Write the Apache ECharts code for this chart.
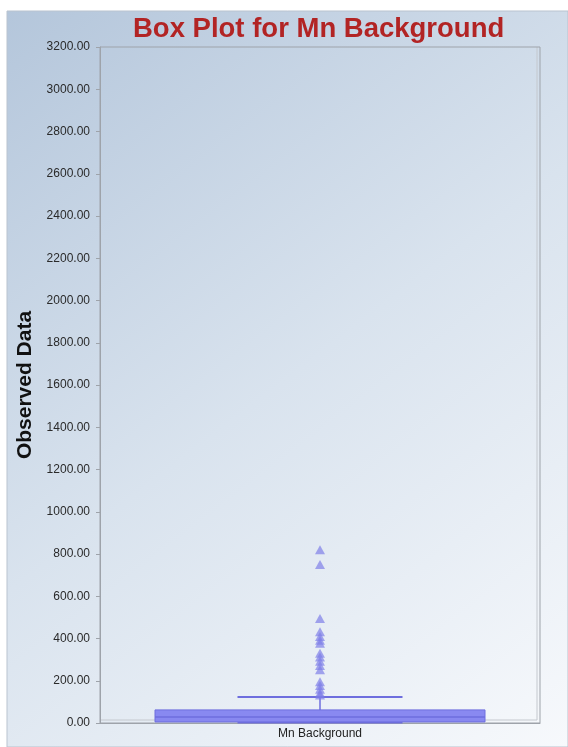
<!DOCTYPE html>
<html>
<head>
<meta charset="utf-8">
<script src="https://cdn.jsdelivr.net/npm/echarts@6/dist/echarts.min.js"></script>
<style>
  html, body { margin: 0; padding: 0; background: #ffffff; }
  #chart { width: 568px; height: 747px; }
</style>
</head>
<body>
<div id="chart"></div>
<script>
// Mn background concentrations: box summary and points beyond the upper whisker
const categories = ['Mn Background'];
const boxStats = [[2, 5, 28, 62, 123]];           // [lower whisker, Q1, median, Q3, upper whisker]
const outliers = [820, 750, 495, 432, 410, 392, 378, 330, 312, 292, 272, 252, 195, 178, 160, 142, 132];
const yTicks = { min: 0, max: 3200, step: 200 };

const chart = echarts.init(document.getElementById('chart'), null, { renderer: 'canvas' });

const boxColor = 'rgba(132,132,240,0.96)';
const edgeColor = '#6e6ede';

function renderBox(params, api) {
  const x = api.value(0);
  const lo = api.coord([x, api.value(1)]);
  const q1 = api.coord([x, api.value(2)]);
  const md = api.coord([x, api.value(3)]);
  const q3 = api.coord([x, api.value(4)]);
  const hi = api.coord([x, api.value(5)]);
  const band = api.size([1, 0])[0];
  const bw = band * 0.75;
  const cw = bw * 0.5;
  const cx = q1[0];
  const line = (x1, y1, x2, y2, w) => ({
    type: 'line',
    shape: { x1, y1, x2, y2 },
    style: { stroke: edgeColor, lineWidth: w || 1.5 }
  });
  return {
    type: 'group',
    children: [
      line(cx, q3[1], cx, hi[1]),
      line(cx, q1[1], cx, lo[1]),
      line(cx - cw / 2, hi[1], cx + cw / 2, hi[1], 2),
      line(cx - cw / 2, lo[1], cx + cw / 2, lo[1], 2),
      {
        type: 'rect',
        shape: { x: cx - bw / 2, y: q3[1], width: bw, height: q1[1] - q3[1] },
        style: { fill: boxColor, stroke: edgeColor, lineWidth: 1 }
      },
      line(cx - bw / 2, md[1], cx + bw / 2, md[1], 1.5)
    ]
  };
}

chart.setOption({
  animation: false,
  backgroundColor: '#ffffff',
  graphic: [
    {
      type: 'rect',
      z: -10,
      silent: true,
      shape: { x: 7, y: 11, width: 561, height: 736 },
      style: {
        fill: new echarts.graphic.LinearGradient(0, 0, 1, 1, [
          { offset: 0, color: '#b4c6db' },
          { offset: 0.5, color: '#d9e3ee' },
          { offset: 1, color: '#f7f9fc' }
        ]),
        stroke: '#b9c3cf',
        lineWidth: 1
      }
    },
    {
      type: 'polyline',
      z: -5,
      silent: true,
      shape: { points: [[537, 47], [537, 720], [100, 720]] },
      style: { stroke: '#c4c8ce', lineWidth: 1, fill: null }
    }
  ],
  title: {
    text: 'Box Plot for Mn Background',
    left: 128,
    top: 10,
    textStyle: {
      fontFamily: 'Liberation Sans, Arial, sans-serif',
      fontSize: 27.5,
      fontWeight: 'bold',
      color: '#b22424'
    }
  },
  grid: {
    left: 100,
    right: 28,
    top: 47,
    bottom: 24,
    show: true,
    borderColor: '#9ea3aa',
    borderWidth: 1,
    backgroundColor: 'transparent'
  },
  xAxis: {
    type: 'category',
    data: categories,
    axisLine: { lineStyle: { color: '#9ea3aa' } },
    axisTick: { alignWithLabel: true, length: 4, lineStyle: { color: '#9ea3aa' } },
    axisLabel: {
      fontFamily: 'Liberation Sans, Arial, sans-serif',
      fontSize: 12,
      color: '#222222',
      margin: 5
    }
  },
  yAxis: {
    type: 'value',
    min: yTicks.min,
    max: yTicks.max,
    interval: yTicks.step,
    name: 'Observed Data',
    nameLocation: 'middle',
    nameGap: 62,
    nameTextStyle: {
      fontFamily: 'Liberation Sans, Arial, sans-serif',
      fontSize: 21,
      fontWeight: 'bold',
      color: '#111111'
    },
    axisLine: { show: true, lineStyle: { color: '#9ea3aa' } },
    axisTick: { show: true, length: 4, lineStyle: { color: '#9ea3aa' } },
    splitLine: { show: false },
    axisLabel: {
      fontFamily: 'Liberation Sans, Arial, sans-serif',
      fontSize: 12,
      color: '#2a2a2a',
      margin: 10,
      formatter: v => v.toFixed(2)
    }
  },
  series: [
    {
      type: 'custom',
      renderItem: renderBox,
      encode: { x: 0, y: [1, 2, 3, 4, 5] },
      data: boxStats.map((s, i) => [i].concat(s)),
      z: 2
    },
    {
      type: 'scatter',
      symbol: 'triangle',
      symbolSize: [10, 9],
      itemStyle: { color: 'rgba(124,124,232,0.85)' },
      data: outliers.map(v => [categories[0], v]),
      z: 3
    }
  ]
});
</script>
</body>
</html>
